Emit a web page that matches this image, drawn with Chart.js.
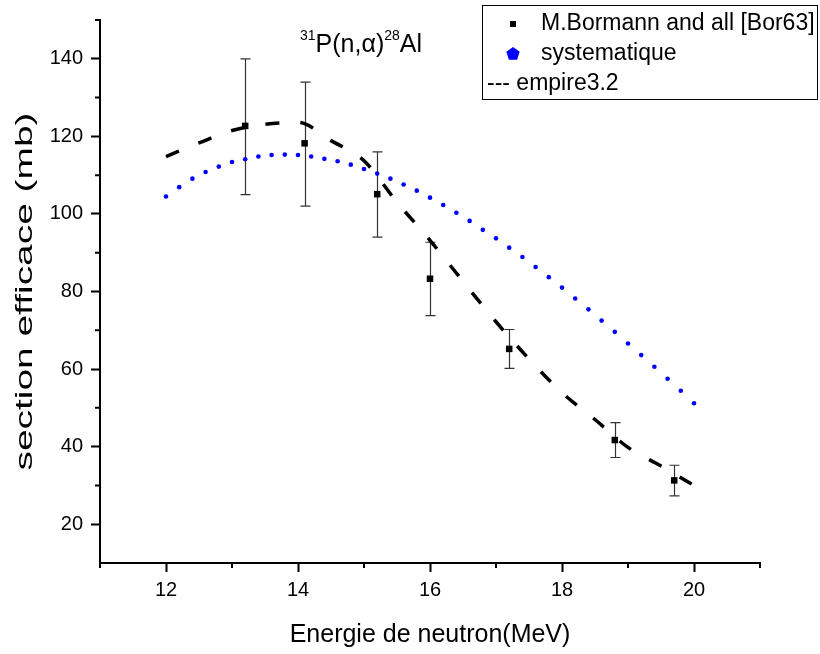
<!DOCTYPE html>
<html>
<head>
<meta charset="utf-8">
<script src="https://cdn.jsdelivr.net/npm/chart.js@4.4.1/dist/chart.umd.min.js"></script>
<style>
  html, body { margin: 0; padding: 0; background: #fff; }
  canvas { display: block; }
</style>
</head>
<body>
<canvas id="chart" width="820" height="654"></canvas>
<script>
// ==================== DATA ====================
// experimental points (M.Bormann [Bor63]) with error bars
const expEnergy  = [13.2, 14.1, 15.2, 16.0, 17.2, 18.8, 19.7];
const expSigma   = [122.7, 118.2, 105.1, 83.3, 65.2, 41.7, 31.3];
const expErrLow  = [105.0, 102.0, 94.0, 73.8, 60.2, 37.2, 27.3];
const expErrHigh = [140.0, 134.0, 116.0, 92.7, 70.2, 46.2, 35.2];

// systematique (blue dots)
const sysEnergy = [12.0, 12.2, 12.4, 12.6, 12.8, 13.0, 13.2, 13.4, 13.6, 13.8,
                   14.0, 14.2, 14.4, 14.6, 14.8, 15.0, 15.2, 15.4, 15.6, 15.8,
                   16.0, 16.2, 16.4, 16.6, 16.8, 17.0, 17.2, 17.4, 17.6, 17.8,
                   18.0, 18.2, 18.4, 18.6, 18.8, 19.0, 19.2, 19.4, 19.6, 19.8, 20.0];
const sysSigma  = [104.5, 106.9, 109.1, 110.8, 112.2, 113.4, 114.1, 114.8, 115.2, 115.3,
                   115.2, 114.8, 114.2, 113.6, 112.7, 111.6, 110.4, 109.1, 107.6, 106.0,
                   104.2, 102.3, 100.3, 98.2, 95.9, 93.7, 91.3, 88.9, 86.3, 83.7,
                   81.0, 78.2, 75.4, 72.5, 69.6, 66.6, 63.6, 60.6, 57.5, 54.4, 51.2];

// empire3.2 (dashed curve)
const empEnergy = [12.0, 12.5, 13.0, 13.5, 14.0, 14.5, 15.0, 15.5, 16.0,
                   16.5, 17.0, 17.5, 18.0, 18.5, 19.0, 19.5, 20.0];
const empSigma  = [114.8, 118.3, 121.5, 123.1, 123.6, 118.9, 113.7, 103.0, 93.2,
                   82.6, 72.2, 62.6, 53.9, 47.0, 39.8, 35.0, 30.0];

// axes
const xTicks = [12, 14, 16, 18, 20];
const xMinorTicks = [11, 13, 15, 17, 19, 21];
const yTicks = [20, 40, 60, 80, 100, 120, 140];
const yMinorTicks = [30, 50, 70, 90, 110, 130, 150];
const yTitle = 'section efficace (mb)';

const FONT = '"Liberation Sans", Arial, sans-serif';

const toXY = (xs, ys) => xs.map((x, i) => ({ x: x, y: ys[i] }));

// ==================== PLUGINS ====================
const errorBars = {
  id: 'errorBars',
  beforeDatasetsDraw(chart) {
    const { ctx, scales: { x, y } } = chart;
    ctx.save();
    ctx.strokeStyle = '#333';
    ctx.lineWidth = 1.2;
    expEnergy.forEach((e, i) => {
      const px = Math.round(x.getPixelForValue(e)) + 0.5;
      const top = y.getPixelForValue(expErrHigh[i]);
      const bot = y.getPixelForValue(expErrLow[i]);
      ctx.beginPath();
      ctx.moveTo(px, top); ctx.lineTo(px, bot);
      ctx.moveTo(px - 5, top); ctx.lineTo(px + 5, top);
      ctx.moveTo(px - 5, bot); ctx.lineTo(px + 5, bot);
      ctx.stroke();
    });
    ctx.restore();
  }
};

const minorTicks = {
  id: 'minorTicks',
  afterDraw(chart) {
    const { ctx, chartArea: a, scales: { x, y } } = chart;
    ctx.save();
    ctx.strokeStyle = '#000';
    ctx.lineWidth = 2;
    ctx.beginPath();
    xMinorTicks.forEach(v => {
      const px = x.getPixelForValue(v);
      ctx.moveTo(px, a.bottom); ctx.lineTo(px, a.bottom + 5);
    });
    yMinorTicks.forEach(v => {
      const py = y.getPixelForValue(v);
      ctx.moveTo(a.left, py); ctx.lineTo(a.left - 5, py);
    });
    ctx.stroke();

    // y axis title, drawn stretched along the axis like the original
    const a2 = chart.chartArea;
    ctx.fillStyle = '#000';
    ctx.font = '24px ' + FONT;
    ctx.textAlign = 'center';
    ctx.textBaseline = 'middle';
    ctx.translate(25, (a2.top + a2.bottom) / 2);
    ctx.rotate(-Math.PI / 2);
    ctx.scale(1.62, 1);
    ctx.fillText(yTitle, 0, 0);
    ctx.restore();
  }
};

const reactionTitle = {
  id: 'reactionTitle',
  afterDraw(chart) {
    const { ctx } = chart;
    const parts = [['31', true], ['P(n,\u03b1)', false], ['28', true], ['Al', false]];
    let px = 300;
    const base = 52;
    ctx.save();
    ctx.fillStyle = '#000';
    ctx.textBaseline = 'alphabetic';
    parts.forEach(([t, sup]) => {
      ctx.font = (sup ? '14px ' : '25px ') + FONT;
      ctx.fillText(t, px, sup ? base - 12 : base);
      px += ctx.measureText(t).width;
    });
    ctx.restore();
  }
};

const boxLegend = {
  id: 'boxLegend',
  afterDraw(chart) {
    const { ctx } = chart;
    ctx.save();
    ctx.strokeStyle = '#000';
    ctx.lineWidth = 1;
    ctx.strokeRect(482.5, 5.5, 335, 94);

    // square marker
    ctx.fillStyle = '#000';
    ctx.fillRect(510, 21, 6, 6);
    // pentagon marker
    ctx.fillStyle = '#0000ff';
    ctx.beginPath();
    for (let k = 0; k < 5; k++) {
      const ang = -Math.PI / 2 + k * 2 * Math.PI / 5;
      const px = 513 + 7 * Math.cos(ang), py = 54 + 7 * Math.sin(ang);
      k ? ctx.lineTo(px, py) : ctx.moveTo(px, py);
    }
    ctx.closePath();
    ctx.fill();

    ctx.fillStyle = '#000';
    ctx.font = '23px ' + FONT;
    ctx.textBaseline = 'middle';
    ctx.fillText(chart.data.datasets[0].label, 541, 24);
    ctx.fillText(chart.data.datasets[1].label, 541, 54);
    ctx.fillText('--- ' + chart.data.datasets[2].label, 487, 84);
    ctx.restore();
  }
};

// ==================== CHART ====================
new Chart(document.getElementById('chart'), {
  type: 'scatter',
  data: {
    datasets: [
      {
        label: 'M.Bormann and all [Bor63]',
        data: toXY(expEnergy, expSigma),
        pointStyle: 'rect',
        pointRadius: 4.6,
        pointBorderWidth: 0,
        backgroundColor: '#000',
        borderColor: '#000'
      },
      {
        label: 'systematique',
        data: toXY(sysEnergy, sysSigma),
        pointStyle: 'circle',
        pointRadius: 2.3,
        pointBorderWidth: 0,
        backgroundColor: '#0000ff',
        borderColor: '#0000ff'
      },
      {
        label: 'empire3.2',
        data: toXY(empEnergy, empSigma),
        showLine: true,
        pointRadius: 0,
        borderColor: '#000',
        borderWidth: 3.5,
        borderDash: [14, 21],
        cubicInterpolationMode: 'monotone'
      }
    ]
  },
  options: {
    responsive: false,
    animation: false,
    events: [],
    layout: { padding: { top: 20, right: 60, left: 0, bottom: 0 } },
    plugins: {
      legend: { display: false },
      tooltip: { enabled: false }
    },
    scales: {
      x: {
        type: 'linear',
        min: 11, max: 21,
        afterBuildTicks: s => { s.ticks = xTicks.map(v => ({ value: v })); },
        afterFit: s => { s.height = 91; },
        border: { display: true, color: '#000', width: 2 },
        grid: { display: true, drawOnChartArea: false, drawTicks: true, tickLength: 9, tickWidth: 2, tickColor: '#000' },
        ticks: { color: '#000', padding: 6, maxRotation: 0, font: { family: FONT, size: 20 } },
        title: {
          display: true,
          text: 'Energie de neutron(MeV)',
          color: '#000',
          font: { family: FONT, size: 25 },
          padding: { top: 0, bottom: 4 }
        }
      },
      y: {
        type: 'linear',
        min: 10, max: 150,
        afterBuildTicks: s => { s.ticks = yTicks.map(v => ({ value: v })); },
        afterFit: s => { s.width = 100; },
        border: { display: true, color: '#000', width: 2 },
        grid: { display: true, drawOnChartArea: false, drawTicks: true, tickLength: 9, tickWidth: 2, tickColor: '#000' },
        ticks: { color: '#000', padding: 8, font: { family: FONT, size: 20 } },
        title: { display: false }
      }
    }
  },
  plugins: [errorBars, minorTicks, reactionTitle, boxLegend]
});
</script>
</body>
</html>
